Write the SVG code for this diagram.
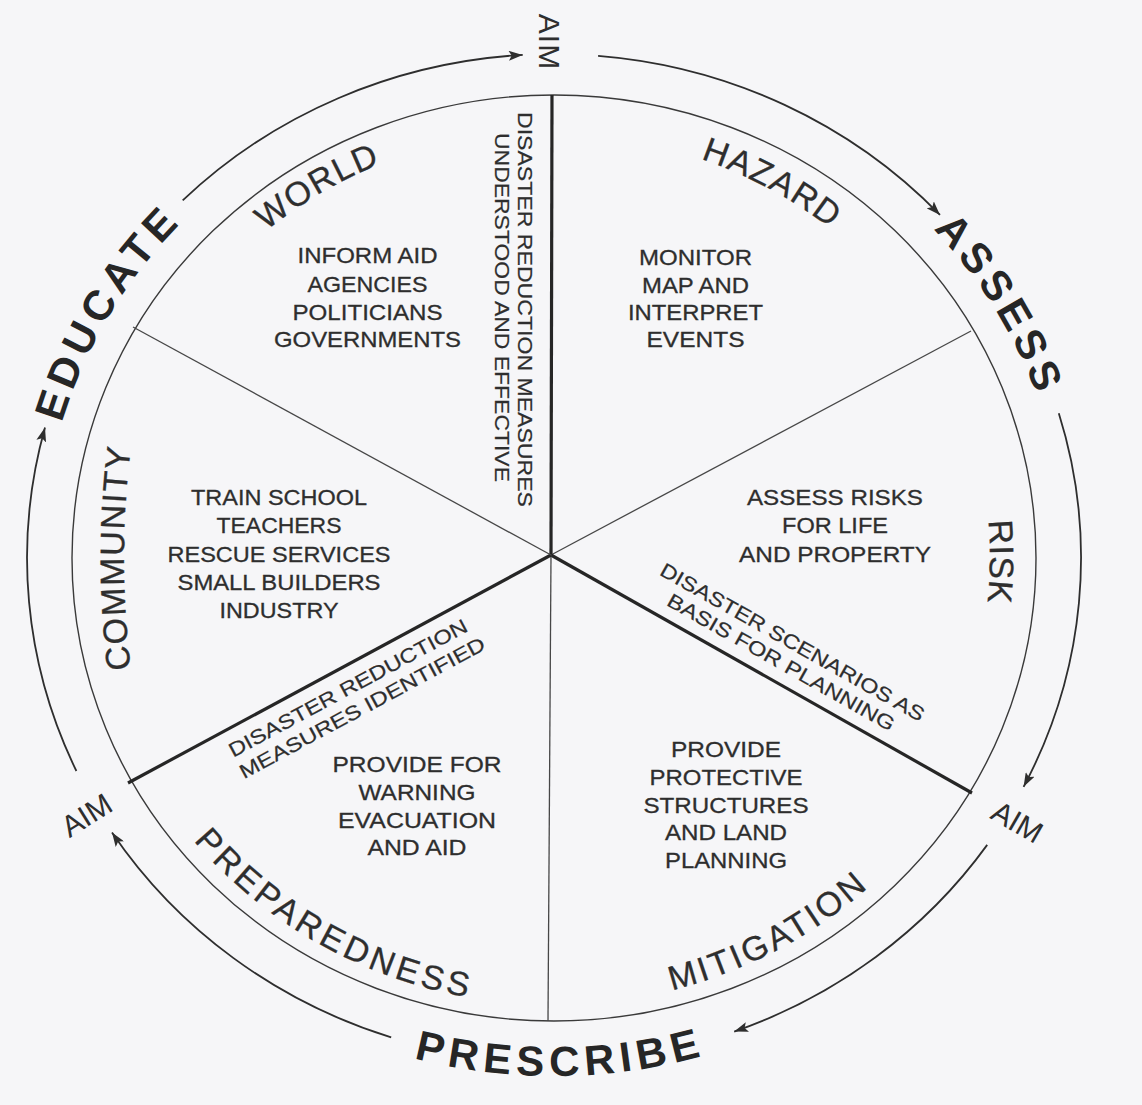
<svg xmlns="http://www.w3.org/2000/svg" width="1142" height="1105" viewBox="0 0 1142 1105">
<style>
.arc{fill:none;stroke:#2e2e2e;stroke-width:1.8}
.rim{fill:none;stroke:#3a3a3a;stroke-width:1.4}
.thin{stroke:#474747;stroke-width:1.3}
.thick{stroke:#262626;stroke-width:3.2}
text{font-family:"Liberation Sans",Arial,sans-serif;fill:#2e2e2e}
.big{font-weight:bold;font-size:42px;fill:#262626}
.lab{font-size:34px;stroke:#2e2e2e;stroke-width:0.3}
.body{font-size:22px;text-anchor:middle;stroke:#2e2e2e;stroke-width:0.3}
.spk{font-size:20px;text-anchor:middle;stroke:#2e2e2e;stroke-width:0.2}
.aim{font-size:30px;text-anchor:middle}
</style>
<defs>
<marker id="ah" viewBox="0 0 14 10" refX="14" refY="5" markerWidth="14" markerHeight="10" markerUnits="userSpaceOnUse" orient="auto">
<path d="M0,0 L14,5 L0,10 L3,5 z" fill="#2e2e2e"/>
</marker>
<path id="pEdu" d="M44.4 604.9 A512 489 0 0 1 333.6 116.6"/>
<path id="pAss" d="M768 113.7 A512 489 0 0 1 1064.3 598.1"/>
<path id="pPre" d="M249.1 985.9 A541 518 0 0 0 869.7 978.7"/>
<path id="pWor" d="M144.1 389.4 A446 428 0 0 1 578.9 130.7"/>
<path id="pHaz" d="M511.7 136.9 A441 423 0 0 1 952 375.9"/>
<path id="pCom" d="M178.3 865.8 A900 900 0 0 1 178.3 250.2"/>
<path id="pRis" d="M913.3 320.7 A436 419 0 0 1 908.9 801.3"/>
<path id="pMit" d="M505.4 1002.5 A465 447 0 0 0 971.9 754"/>
<path id="pPrep" d="M130 741.6 A465 447 0 0 0 588.5 1003.8"/>
</defs>
<rect width="1142" height="1105" fill="#f6f6f8"/>

<g id="wheel">
<ellipse class="rim" cx="554" cy="558" rx="482" ry="463"/>
<line class="thick" x1="552" y1="95" x2="551" y2="555"/>
<line class="thin" x1="551" y1="555" x2="971" y2="331"/>
<line class="thick" x1="551" y1="555" x2="972" y2="793"/>
<line class="thin" x1="551" y1="555" x2="548" y2="1021"/>
<line class="thick" x1="551" y1="555" x2="128" y2="783"/>
<line class="thin" x1="551" y1="555" x2="133" y2="327"/>
</g>

<g id="connectors">
<path class="arc" marker-end="url(#ah)" d="M598.1 55.8 A527 504 0 0 1 940 214.9"/>
<path class="arc" marker-end="url(#ah)" d="M1058.8 413.2 A527 504 0 0 1 1023.6 786.8"/>
<path class="arc" marker-end="url(#ah)" d="M987.2 844.9 A527 504 0 0 1 734.2 1031.6"/>
<path class="arc" marker-end="url(#ah)" d="M391.2 1037.4 A527 504 0 0 1 112 832.5"/>
<path class="arc" marker-end="url(#ah)" d="M76.4 771 A527 504 0 0 1 45 427.6"/>
<path class="arc" marker-end="url(#ah)" d="M182.7 200.4 A527 504 0 0 1 522.7 54.9"/>
</g>

<g id="educate"><text class="big" letter-spacing="5.5"><textPath href="#pEdu" startOffset="50%" text-anchor="middle">EDUCATE</textPath></text></g>
<g id="assess"><text class="big" letter-spacing="5"><textPath href="#pAss" startOffset="50%" text-anchor="middle">ASSESS</textPath></text></g>
<g id="prescribe"><text class="big" letter-spacing="5.7"><textPath href="#pPre" startOffset="50%" text-anchor="middle">PRESCRIBE</textPath></text></g>

<g id="aim-top"><text class="aim" transform="translate(539,42) rotate(90)" letter-spacing="1">AIM</text></g>
<g id="aim-right"><text class="aim" transform="translate(1012,831) rotate(30)">AIM</text></g>
<g id="aim-left"><text class="aim" transform="translate(92,824) rotate(-32)">AIM</text></g>

<g id="world">
<text class="lab" letter-spacing="1.5"><textPath href="#pWor" startOffset="50%" text-anchor="middle">WORLD</textPath></text>
<text class="body" x="367.5" y="263" textLength="140" lengthAdjust="spacingAndGlyphs">INFORM AID</text>
<text class="body" x="367.5" y="292" textLength="120" lengthAdjust="spacingAndGlyphs">AGENCIES</text>
<text class="body" x="367.5" y="320" textLength="150" lengthAdjust="spacingAndGlyphs">POLITICIANS</text>
<text class="body" x="367.5" y="347" textLength="187" lengthAdjust="spacingAndGlyphs">GOVERNMENTS</text>
</g>

<g id="hazard">
<text class="lab" letter-spacing="1.5"><textPath href="#pHaz" startOffset="50%" text-anchor="middle">HAZARD</textPath></text>
<text class="body" x="695.5" y="265" textLength="113" lengthAdjust="spacingAndGlyphs">MONITOR</text>
<text class="body" x="695.5" y="293" textLength="107" lengthAdjust="spacingAndGlyphs">MAP AND</text>
<text class="body" x="695.5" y="320" textLength="135" lengthAdjust="spacingAndGlyphs">INTERPRET</text>
<text class="body" x="695.5" y="347" textLength="98" lengthAdjust="spacingAndGlyphs">EVENTS</text>
</g>

<g id="risk">
<text class="lab" letter-spacing="0.8"><textPath href="#pRis" startOffset="50%" text-anchor="middle">RISK</textPath></text>
<text class="body" x="835" y="505" textLength="176" lengthAdjust="spacingAndGlyphs">ASSESS RISKS</text>
<text class="body" x="835" y="533" textLength="106" lengthAdjust="spacingAndGlyphs">FOR LIFE</text>
<text class="body" x="835" y="562" textLength="192" lengthAdjust="spacingAndGlyphs">AND PROPERTY</text>
</g>

<g id="mitigation">
<text class="lab" letter-spacing="3"><textPath href="#pMit" startOffset="50%" text-anchor="middle">MITIGATION</textPath></text>
<text class="body" x="726" y="757" textLength="110" lengthAdjust="spacingAndGlyphs">PROVIDE</text>
<text class="body" x="726" y="785" textLength="153" lengthAdjust="spacingAndGlyphs">PROTECTIVE</text>
<text class="body" x="726" y="813" textLength="165" lengthAdjust="spacingAndGlyphs">STRUCTURES</text>
<text class="body" x="726" y="840" textLength="122" lengthAdjust="spacingAndGlyphs">AND LAND</text>
<text class="body" x="726" y="868" textLength="122" lengthAdjust="spacingAndGlyphs">PLANNING</text>
</g>

<g id="preparedness">
<text class="lab" letter-spacing="4"><textPath href="#pPrep" startOffset="50%" text-anchor="middle">PREPAREDNESS</textPath></text>
<text class="body" x="417" y="772" textLength="169" lengthAdjust="spacingAndGlyphs">PROVIDE FOR</text>
<text class="body" x="417" y="800" textLength="117" lengthAdjust="spacingAndGlyphs">WARNING</text>
<text class="body" x="417" y="828" textLength="158" lengthAdjust="spacingAndGlyphs">EVACUATION</text>
<text class="body" x="417" y="855" textLength="99" lengthAdjust="spacingAndGlyphs">AND AID</text>
</g>

<g id="community">
<text class="lab" letter-spacing="1.5"><textPath href="#pCom" startOffset="50%" text-anchor="middle">COMMUNITY</textPath></text>
<text class="body" x="279" y="505" textLength="176" lengthAdjust="spacingAndGlyphs">TRAIN SCHOOL</text>
<text class="body" x="279" y="533" textLength="125" lengthAdjust="spacingAndGlyphs">TEACHERS</text>
<text class="body" x="279" y="562" textLength="223" lengthAdjust="spacingAndGlyphs">RESCUE SERVICES</text>
<text class="body" x="279" y="590" textLength="203" lengthAdjust="spacingAndGlyphs">SMALL BUILDERS</text>
<text class="body" x="279" y="618" textLength="119" lengthAdjust="spacingAndGlyphs">INDUSTRY</text>
</g>

<g id="aim-understood">
<text class="spk" transform="translate(518,309.5) rotate(90)" textLength="395" lengthAdjust="spacingAndGlyphs">DISASTER REDUCTION MEASURES</text>
<text class="spk" transform="translate(495,307.5) rotate(90)" textLength="349" lengthAdjust="spacingAndGlyphs">UNDERSTOOD AND EFFECTIVE</text>
</g>
<g id="aim-scenarios">
<text class="spk" transform="translate(789.1,648.2) rotate(29.5)" textLength="300" lengthAdjust="spacingAndGlyphs">DISASTER SCENARIOS AS</text>
<text class="spk" transform="translate(777.7,668.2) rotate(29.5)" textLength="258" lengthAdjust="spacingAndGlyphs">BASIS FOR PLANNING</text>
</g>
<g id="aim-identified">
<text class="spk" transform="translate(351.3,694.1) rotate(-28.3)" textLength="268" lengthAdjust="spacingAndGlyphs">DISASTER REDUCTION</text>
<text class="spk" transform="translate(365.4,713.8) rotate(-28.3)" textLength="276" lengthAdjust="spacingAndGlyphs">MEASURES IDENTIFIED</text>
</g>
</svg>
